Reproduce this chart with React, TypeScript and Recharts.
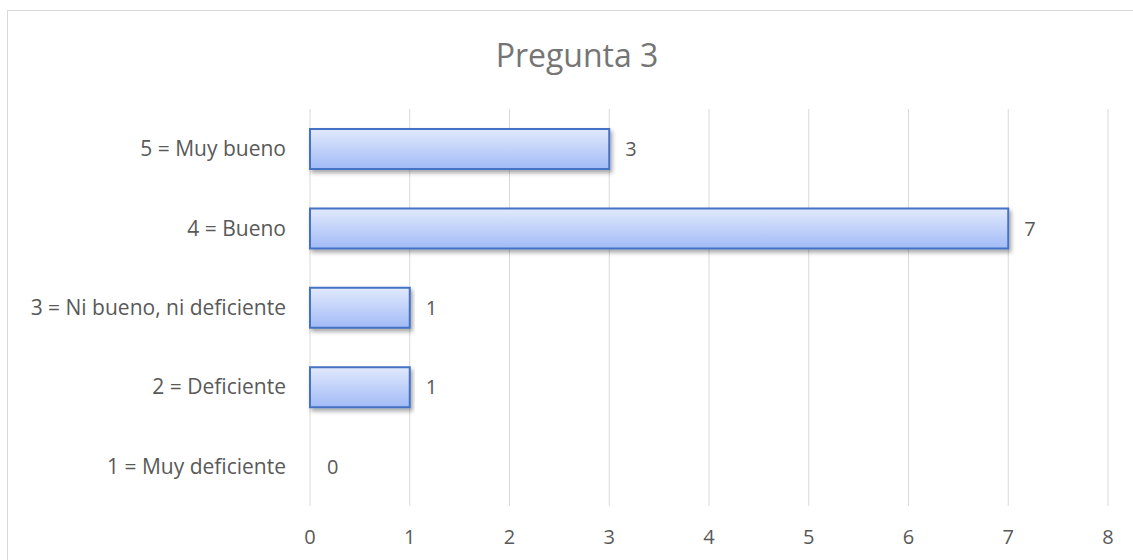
import React from 'react';
import { BarChart, Bar, XAxis, YAxis, CartesianGrid, LabelList, Rectangle } from 'recharts';

// Respuestas a la pregunta 3
const categories = [
    '5 = Muy bueno',
    '4 = Bueno ',
    '3 = Ni bueno, ni deficiente',
    '2 = Deficiente',
    '1 = Muy deficiente',
];
const counts = [3, 7, 1, 1, 0];
const xTicks = [0, 1, 2, 3, 4, 5, 6, 7, 8];

const data = categories.map((name, i) => ({ name, value: counts[i] }));

const FONT = '"Open Sans", "Liberation Sans", sans-serif';
const TEXT = '#595959';

// zero bars keep their label but draw nothing
const BarShape = (props: any) => {
    if (!props.value) return <g />;
    return <Rectangle {...props} />;
};

const App: React.FC = () => {
    return (
        <div
            style={{
                position: 'fixed',
                left: 0,
                top: 0,
                width: 1133,
                height: 560,
                overflow: 'hidden',
                background: '#fff',
                fontFamily: FONT,
            }}
        >
            <div
                style={{
                    position: 'absolute',
                    left: 7,
                    top: 10,
                    width: 1200,
                    height: 600,
                    borderLeft: '1.5px solid #d9d9d9',
                    borderTop: '1.5px solid #d9d9d9',
                }}
            />
            <div
                style={{
                    position: 'absolute',
                    left: 377,
                    width: 400,
                    top: 35,
                    textAlign: 'center',
                    fontSize: 32,
                    color: '#757575',
                    lineHeight: '40px',
                }}
            >
                Pregunta 3
            </div>
            <BarChart
                width={1133}
                height={560}
                data={data}
                layout="vertical"
                margin={{ top: 109, right: 25, bottom: 0, left: 0 }}
                style={{ position: 'absolute', left: 0, top: 0 }}
            >
                <defs>
                    <linearGradient id="barFill" x1="0" y1="0" x2="0" y2="1">
                        <stop offset="0%" stopColor="#e1e9fc" />
                        <stop offset="100%" stopColor="#a2bbf7" />
                    </linearGradient>
                    <filter id="barShadow" x="-5%" y="-20%" width="110%" height="160%">
                        <feDropShadow dx="2" dy="3" stdDeviation="2" floodColor="#000" floodOpacity="0.35" />
                    </filter>
                </defs>
                <CartesianGrid horizontal={false} stroke="#d9d9d9" strokeWidth={1} />
                <XAxis
                    type="number"
                    domain={[0, 8]}
                    ticks={xTicks}
                    axisLine={false}
                    tickLine={false}
                    tickSize={0}
                    tickMargin={24}
                    height={54}
                    tick={{ fill: TEXT, fontSize: 20, fontFamily: FONT }}
                />
                <YAxis
                    type="category"
                    dataKey="name"
                    width={310}
                    axisLine={false}
                    tickLine={false}
                    tickSize={0}
                    tickMargin={24}
                    tick={{ fill: TEXT, fontSize: 21, fontFamily: FONT }}
                />
                <Bar
                    dataKey="value"
                    barSize={40}
                    minPointSize={1}
                    fill="url(#barFill)"
                    stroke="#4472c4"
                    strokeWidth={2}
                    filter="url(#barShadow)"
                    shape={BarShape}
                    isAnimationActive={false}
                >
                    <LabelList
                        dataKey="value"
                        position="right"
                        offset={16}
                        fill={TEXT}
                        fontSize={20}
                        fontFamily={FONT}
                    />
                </Bar>
            </BarChart>
        </div>
    );
};

export default App;
